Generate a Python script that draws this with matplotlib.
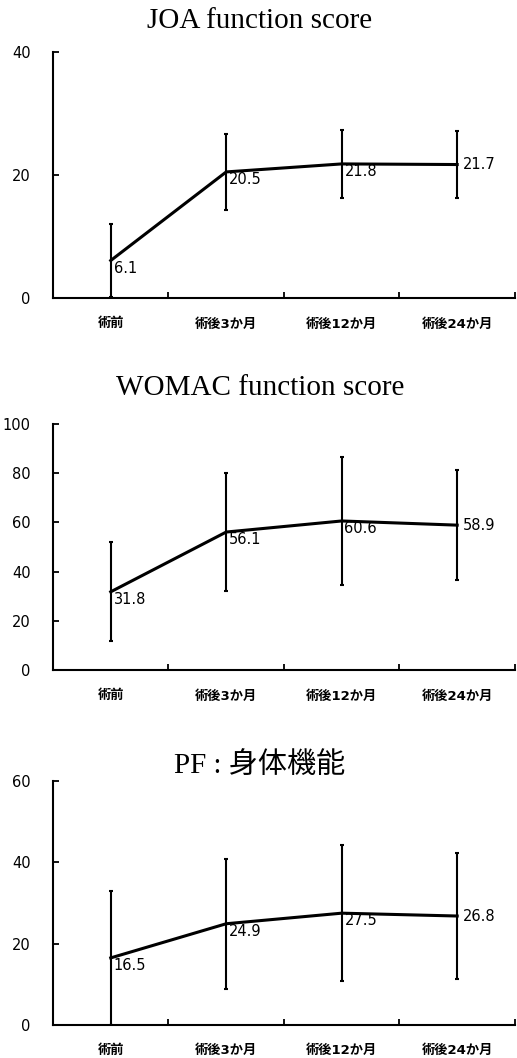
import numpy as np
import matplotlib.pyplot as plt

plt.rcParams['font.family'] = ['DejaVu Sans', 'Noto Sans CJK JP']

categories = ["術前", "術後3か月", "術後12か月", "術後24か月"]
titles = ["JOA function score", "WOMAC function score", "PF : 身体機能"]

joa_mean = [6.1, 20.5, 21.8, 21.7]
joa_sd = [5.9, 6.2, 5.5, 5.4]
womac_mean = [31.8, 56.1, 60.6, 58.9]
womac_sd = [20.2, 23.8, 26.0, 22.3]
pf_mean = [16.5, 24.9, 27.5, 26.8]
pf_sd = [16.4, 16.0, 16.8, 15.4]

ylims = [40, 100, 60]
yticks = [[0, 20, 40], [0, 20, 40, 60, 80, 100], [0, 20, 40, 60]]

# axes boxes in figure fraction (left, bottom, width, height)
boxes = [(0.1025, 0.7183, 0.8935, 0.2326),
         (0.1025, 0.3667, 0.8935, 0.2325),
         (0.1025, 0.0312, 0.8935, 0.2306)]
title_pads = [17, 21, 6]

fig = plt.figure(figsize=(5.17, 10.58), dpi=100)

data = [(joa_mean, joa_sd), (womac_mean, womac_sd), (pf_mean, pf_sd)]
x = np.arange(len(categories))

for i, (mean, sd) in enumerate(data):
    ax = fig.add_axes(boxes[i])
    ax.errorbar(x, mean, yerr=sd, color="black", lw=2.2, elinewidth=1.5,
                capsize=1.5, capthick=1.5)
    for j in range(len(x)):
        if j == len(x) - 1:
            ax.annotate("{:.1f}".format(mean[j]), (x[j], mean[j]), xytext=(4, 0),
                        textcoords="offset points", va="center", ha="left", fontsize=10.5)
        else:
            ax.annotate("{:.1f}".format(mean[j]), (x[j], mean[j]), xytext=(2, 0),
                        textcoords="offset points", va="top", ha="left", fontsize=10.5)
    ax.set_xlim(-0.5, 3.5)
    ax.set_ylim(0, ylims[i])
    ax.set_yticks(yticks[i])
    ax.set_xticks(x)
    ax.set_xticklabels(categories, fontsize=9.5, fontweight="bold")
    ax.set_xticks(np.arange(-0.5, 4, 1), minor=True)
    ax.tick_params(axis="x", which="major", length=0, pad=14)
    ax.tick_params(axis="x", which="minor", direction="in", length=4, width=1.3)
    ax.tick_params(axis="y", direction="in", length=4, width=1.3, labelsize=10.5, pad=16)
    for s in ["top", "right"]:
        ax.spines[s].set_visible(False)
    for s in ["left", "bottom"]:
        ax.spines[s].set_linewidth(1.5)
    ax.set_title(titles[i], family=["Liberation Serif", "Noto Sans CJK JP"],
                 fontsize=21, pad=title_pads[i], x=0.448)

fig.savefig("out.png", dpi=100)
